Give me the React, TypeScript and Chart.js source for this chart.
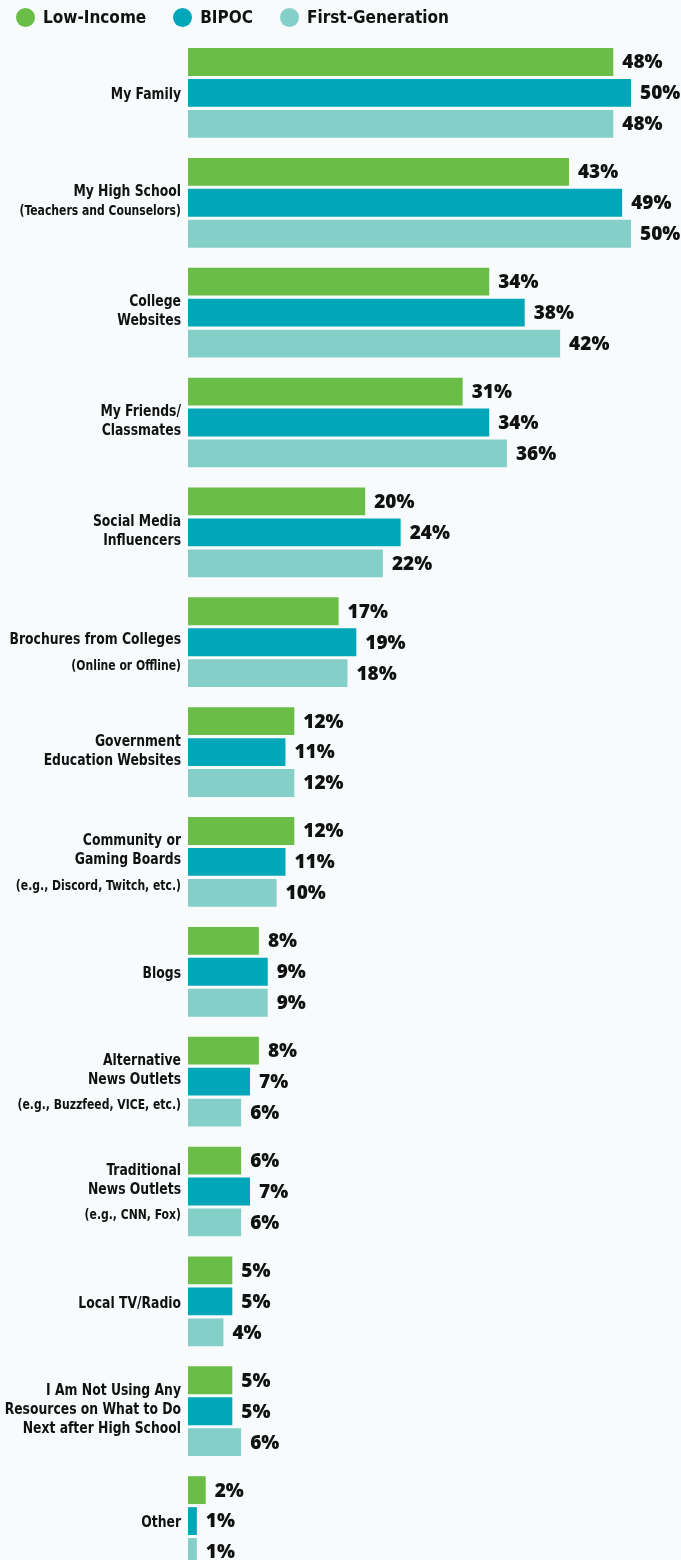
import React, { useEffect, useRef } from "react";
import { Chart, registerables } from "chart.js";

Chart.register(...registerables);

const seriesNames = ["Low-Income", "BIPOC", "First-Generation"];
const seriesColors = ["#6abd46", "#00a7b8", "#85cfc9"];

const categoryLines: string[][] = [
  ["My Family"],
  ["My High School", "(Teachers and Counselors)"],
  ["College", "Websites"],
  ["My Friends/", "Classmates"],
  ["Social Media", "Influencers"],
  ["Brochures from Colleges"],
  ["Government", "Education Websites"],
  ["Community or", "Gaming Boards"],
  ["Blogs"],
  ["Alternative", "News Outlets"],
  ["Traditional", "News Outlets"],
  ["Local TV/Radio"],
  ["I Am Not Using Any", "Resources on What to Do", "Next after High School"],
  ["Other"],
];

const categoryNotes: string[] = [
  "",
  "",
  "",
  "",
  "",
  "(Online or Offline)",
  "",
  "(e.g., Discord, Twitch, etc.)",
  "",
  "(e.g., Buzzfeed, VICE, etc.)",
  "(e.g., CNN, Fox)",
  "",
  "",
  "",
];

const lowIncome = [48, 43, 34, 31, 20, 17, 12, 12, 8, 8, 6, 5, 5, 2];
const bipoc = [50, 49, 38, 34, 24, 19, 11, 11, 9, 7, 7, 5, 5, 1];
const firstGen = [48, 50, 42, 36, 22, 18, 12, 10, 9, 6, 6, 4, 6, 1];

const BG = "#f7fbfc";
const TEXT = "#111111";
const MAIN_FONT = 'bold 16px "DejaVu Sans Condensed", "DejaVu Sans", sans-serif';
const SMALL_FONT = 'bold 14px "DejaVu Sans Condensed", "DejaVu Sans", sans-serif';
const VALUE_FONT = '800 19px "Open Sans", "Noto Sans", sans-serif';
const CONDENSE = 0.86;

const categoryLabelPlugin = {
  id: "categoryLabels",
  afterDraw(chart: any) {
    const { ctx, chartArea } = chart;
    const yScale = chart.scales.y;
    ctx.save();
    ctx.fillStyle = TEXT;
    ctx.textAlign = "right";
    ctx.textBaseline = "middle";
    const x = chartArea.left - 7;
    const lh = 19;
    const draw = (t: string, font: string, y: number) => {
      ctx.save();
      ctx.font = font;
      ctx.translate(x, y);
      ctx.scale(CONDENSE, 1);
      ctx.fillText(t, 0, 0);
      ctx.restore();
    };
    categoryLines.forEach((lines, i) => {
      const cy = yScale.getPixelForValue(i) + 2;
      const note = categoryNotes[i];
      let start: number;
      if (note) {
        start = cy - 4 - (lines.length - 1) * lh;
      } else {
        start = cy - ((lines.length - 1) * lh) / 2 - (lines.length > 1 ? 3 : 0);
      }
      lines.forEach((t, j) => {
        draw(t, t.startsWith("(") ? SMALL_FONT : MAIN_FONT, start + j * lh);
      });
      if (note) {
        draw(note, SMALL_FONT, start + (lines.length - 1) * lh + 26);
      }
    });
    ctx.restore();
  },
};

const valueLabelPlugin = {
  id: "valueLabels",
  afterDatasetsDraw(chart: any) {
    const { ctx } = chart;
    ctx.save();
    ctx.fillStyle = TEXT;
    ctx.font = VALUE_FONT;
    ctx.textAlign = "left";
    ctx.textBaseline = "middle";
    chart.data.datasets.forEach((ds: any, di: number) => {
      const meta = chart.getDatasetMeta(di);
      meta.data.forEach((bar: any, i: number) => {
        ctx.fillText(ds.data[i] + "%", bar.x + 9, bar.y + 1);
      });
    });
    ctx.restore();
  },
};

export default function App() {
  const canvasRef = useRef<HTMLCanvasElement | null>(null);

  useEffect(() => {
    document.body.style.margin = "0";
    document.body.style.background = BG;
    document.documentElement.style.background = BG;
    document.documentElement.style.overflow = "hidden";
    if (!canvasRef.current) return;
    const chart = new Chart(canvasRef.current, {
      type: "bar",
      data: {
        labels: categoryLines.map((l) => l.join(" ")),
        datasets: [lowIncome, bipoc, firstGen].map((d, k) => ({
          label: seriesNames[k],
          data: d,
          backgroundColor: seriesColors[k],
          borderWidth: 0,
          categoryPercentage: 0.845,
          barPercentage: 0.9,
        })),
      },
      options: {
        indexAxis: "y",
        animation: false,
        responsive: true,
        maintainAspectRatio: false,
        layout: { padding: { top: 38, bottom: 4, left: 188, right: 50 } },
        plugins: {
          legend: { display: false },
          tooltip: { enabled: false },
        },
        scales: {
          x: { display: false, min: 0, max: 50 },
          y: { display: false },
        },
      },
      plugins: [categoryLabelPlugin, valueLabelPlugin],
    });
    return () => chart.destroy();
  }, []);

  return (
    <div style={{ width: 681, height: 1560, overflow: "hidden", background: BG, position: "relative" }}>
      <div
        style={{
          position: "absolute",
          top: 7,
          left: 16,
          display: "flex",
          alignItems: "center",
          fontFamily: '"DejaVu Sans Condensed", sans-serif',
          fontWeight: "bold",
          fontSize: 17,
          color: TEXT,
          zIndex: 1,
        }}
      >
        {seriesNames.map((n, k) => (
          <div key={n} style={{ display: "flex", alignItems: "center", marginRight: 27 }}>
            <span
              style={{
                width: 19,
                height: 19,
                borderRadius: "50%",
                background: seriesColors[k],
                display: "inline-block",
                marginRight: 8,
              }}
            />
            <span>{n}</span>
          </div>
        ))}
      </div>
      <div style={{ position: "relative", width: 681, height: 1580 }}>
        <canvas ref={canvasRef} />
      </div>
    </div>
  );
}
